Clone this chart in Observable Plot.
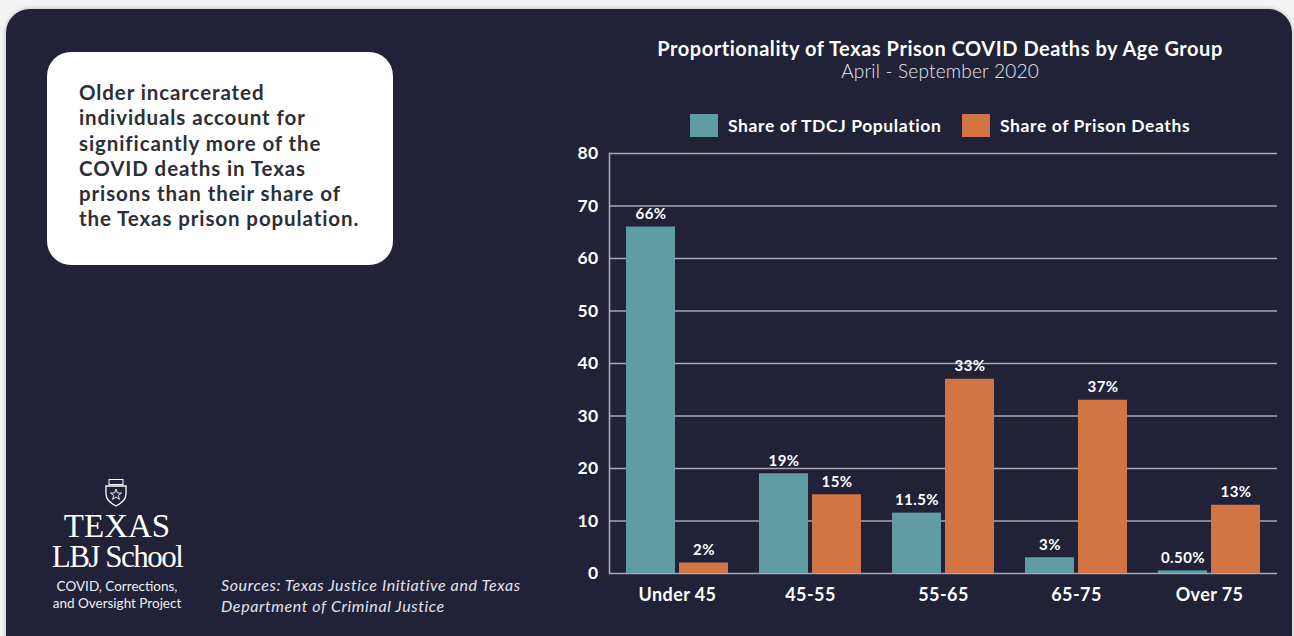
<!DOCTYPE html>
<html>
<head>
<meta charset="utf-8">
<script src="https://cdn.jsdelivr.net/npm/d3@7"></script>
<script src="https://cdn.jsdelivr.net/npm/@observablehq/plot@0.6"></script>
<style>
  html, body { margin: 0; padding: 0; }
  body { width: 1294px; height: 636px; background: #f3f3f4; position: relative; overflow: hidden; font-family: Lato, "Noto Sans", sans-serif; }
  #panel { position: absolute; left: 6px; top: 9px; width: 1286px; height: 660px; background: #212137; border-radius: 24px; box-shadow: 0 0 4px rgba(0,0,0,0.25); }
  #callout { position: absolute; left: 47px; top: 52px; width: 346px; height: 213px; background: #fff; border-radius: 24px; }
  #callout p { position: absolute; left: 32px; top: 28px; margin: 0; font: 700 20.5px/25.3px Lato, sans-serif; letter-spacing: 0.9px; color: #2e2e36; white-space: nowrap; }
  #title { position: absolute; left: 560px; width: 760px; top: 36px; text-align: center; color: #fff; font: 700 20px Lato, sans-serif; letter-spacing: 0.55px; }
  #subtitle { position: absolute; left: 560px; width: 760px; top: 59px; text-align: center; color: #e8e8ee; font: 300 19px Lato, sans-serif; letter-spacing: 0.2px; }
  .leg { position: absolute; top: 114px; height: 23px; display: flex; align-items: center; color: #fff; font: 700 17.5px Lato, sans-serif; letter-spacing: 0.6px; }
  .sw { width: 28px; height: 23px; margin-right: 10px; }
  #chart { position: absolute; left: 560px; top: 140px; }
  #logo { position: absolute; left: 37px; top: 478px; width: 160px; text-align: center; color: #fff; }
  #logo .t1 { font: 400 33px/30px "Liberation Serif", "DejaVu Serif", serif; margin-top: 4px; }
  #logo .t2 { font: 400 31px/32px "Liberation Serif", "DejaVu Serif", serif; letter-spacing: -1.5px; margin-top: 0px; }
  #logo .t3 { font: 400 13.5px/17px Lato, sans-serif; margin-top: 5px; color: #f0f0f0; }
  #sources { position: absolute; left: 221px; top: 574px; color: #e4e4ea; font: italic 400 16px/21px Lato, sans-serif; letter-spacing: 0.6px; }
</style>
</head>
<body>
<div id="panel"></div>
<div id="callout"><p>Older incarcerated<br>individuals account for<br>significantly more of the<br>COVID deaths in Texas<br>prisons than their share of<br>the Texas prison population.</p></div>
<div id="title">Proportionality of Texas Prison COVID Deaths by Age Group</div>
<div id="subtitle">April - September 2020</div>
<div class="leg" style="left:690px"><div class="sw" style="background:#5f9ca4"></div><span id="l1"></span></div>
<div class="leg" style="left:962px"><div class="sw" style="background:#d27545"></div><span id="l2"></span></div>
<div id="chart"></div>
<div id="logo">
  <svg width="24" height="29" viewBox="0 0 24 29" style="display:block;margin:0 auto;position:relative;left:-1px">
    <rect x="5" y="1.5" width="14" height="5" fill="none" stroke="#fff" stroke-width="1"/>
    <path d="M2 8 H22 V16 C22 22 17 25.5 12 28 C7 25.5 2 22 2 16 Z" fill="none" stroke="#fff" stroke-width="1.3"/>
    <path d="M12 11 L13.4 15 L17.6 15 L14.2 17.4 L15.5 21.4 L12 19 L8.5 21.4 L9.8 17.4 L6.4 15 L10.6 15 Z" fill="none" stroke="#fff" stroke-width="0.9"/>
  </svg>
  <div class="t1">TEXAS</div>
  <div class="t2">LBJ School</div>
  <div class="t3">COVID, Corrections,<br>and Oversight Project</div>
</div>
<div id="sources">Sources: Texas Justice Initiative and Texas<br>Department of Criminal Justice</div>
<script>
const ageGroups = ["Under 45", "45-55", "55-65", "65-75", "Over 75"];
const seriesNames = ["Share of TDCJ Population", "Share of Prison Deaths"];
const populationShare = [66, 19, 11.5, 3, 0.5];
const deathShare = [2, 15, 37, 33, 13];
const populationLabels = ["66%", "19%", "11.5%", "3%", "0.50%"];
const deathLabels = ["2%", "15%", "33%", "37%", "13%"];
const yTicks = [0, 10, 20, 30, 40, 50, 60, 70, 80];
const seriesColors = ["#5f9ca4", "#d27545"];

document.getElementById("l1").textContent = seriesNames[0];
document.getElementById("l2").textContent = seriesNames[1];

const pop = ageGroups.map((age, i) => ({age, value: populationShare[i], label: populationLabels[i]}));
const deaths = ageGroups.map((age, i) => ({age, value: deathShare[i], label: deathLabels[i]}));

const grid = "#a9a9b2";
const half = 53; // inset to split each band into two bars
const off = 26.5;
const labelStyle = {fill: "#fff", fontWeight: 700, fontSize: 15, fontFamily: "Lato", lineAnchor: "bottom", dy: -8};

const chart = Plot.plot({
  width: 734,
  height: 496,
  marginLeft: 49,
  marginRight: 17,
  marginTop: 13,
  marginBottom: 63,
  style: {background: "transparent", color: "#fff", overflow: "visible", letterSpacing: "0.4px"},
  x: {domain: ageGroups, paddingInner: 0.236, paddingOuter: 0.12, label: null},
  y: {domain: [0, 80], label: null},
  marks: [
    Plot.ruleY(yTicks, {stroke: grid, strokeWidth: 1.6}),
    Plot.frame({anchor: "left", stroke: grid, strokeWidth: 1.6}),
    Plot.barY(pop, {x: "age", y: "value", fill: seriesColors[0], insetRight: half}),
    Plot.barY(deaths, {x: "age", y: "value", fill: seriesColors[1], insetLeft: half}),
    Plot.text(pop, {x: "age", y: "value", text: "label", dx: -off, ...labelStyle}),
    Plot.text(deaths, {x: "age", y: "value", text: "label", dx: off, ...labelStyle}),
    Plot.axisY({ticks: yTicks, tickSize: 0, tickPadding: 11, fontSize: 17.5, fontWeight: 700, fontFamily: "Lato", fill: "#fff", label: null}),
    Plot.axisX({tickSize: 0, tickPadding: 15, fontSize: 18, fontWeight: 700, fontFamily: "Lato", fill: "#fff", label: null})
  ]
});
document.getElementById("chart").appendChild(chart);
</script>
</body>
</html>
